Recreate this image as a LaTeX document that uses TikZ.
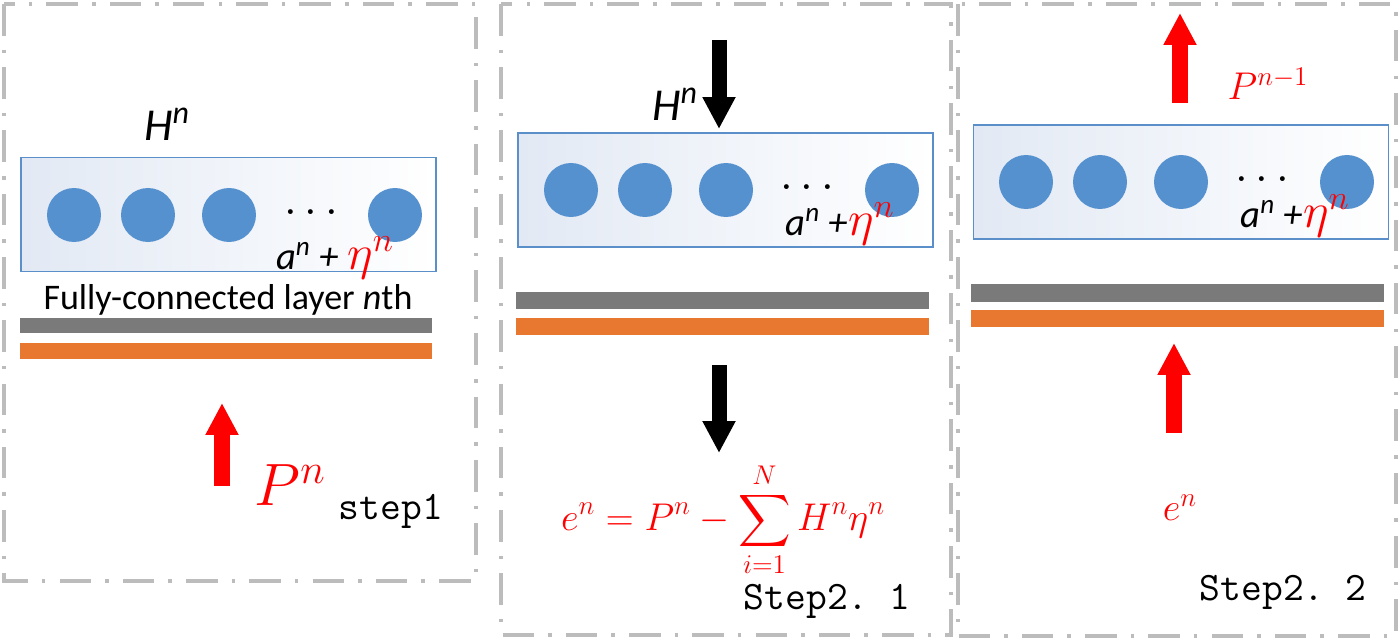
\RequirePackage{fix-cm}
\documentclass[tikz,border=0pt]{standalone}
\usepackage{amsmath}
\usepackage{fontspec}
\newfontfamily\calibri{Carlito}
\usepackage{tikz}
\usetikzlibrary{arrows.meta, positioning}

\definecolor{neuronblue}{RGB}{85,145,207}
\definecolor{boxblue}{RGB}{91,143,201}
\definecolor{shadeblue}{RGB}{226,233,244}
\definecolor{bargray}{RGB}{122,122,122}
\definecolor{barorange}{RGB}{232,120,48}
\definecolor{framegray}{RGB}{188,188,188}

\begin{document}
\begin{tikzpicture}[x=0.02cm, y=-0.02cm,
    frame/.style={draw=framegray, line width=2pt,
                  dash pattern=on 18pt off 8pt on 2pt off 8pt},
    layerbox/.style={rectangle, draw=boxblue, line width=0.9pt,
                     left color=shadeblue, right color=white,
                     minimum width=8.3cm, minimum height=2.28cm},
    neuron/.style={circle, fill=neuronblue, inner sep=0pt, minimum size=1.08cm},
    dots/.style={font=\fontsize{26}{30}\selectfont},
    sumlbl/.style={font=\calibri\itshape\fontsize{22}{26}\selectfont, inner sep=0pt},
    hlbl/.style={font=\calibri\itshape\fontsize{26}{30}\selectfont},
    steplbl/.style={font=\ttfamily\fontsize{23}{27}\selectfont},
    redmath/.style={text=red, font=\fontsize{22}{26}\selectfont},
    redarrow/.style={draw=red, line width=0.32cm,
                     -{Triangle[width=0.62cm, length=0.64cm]}},
    blackarrow/.style={draw=black, line width=0.3cm,
                       -{Triangle[width=0.62cm, length=0.64cm]}}
]
    \useasboundingbox (0,0) rectangle (1400,642);

    % --- Panel frames ---
    \draw[frame] (4,4) rectangle (476,581);
    \draw[frame] (501,4) rectangle (951,635);
    \draw[frame] (958,4) rectangle (1396,636);

    % --- Step 1 ---
    \node[hlbl] (h1) at (167,124) {H\textsuperscript{n}};
    \node[layerbox] (box1) at (228.5,214.5) {};
    \node[neuron] (c11) at (74,215)  {};
    \node[neuron] (c12) at (148,215) {};
    \node[neuron] (c13) at (229,215) {};
    \node[neuron] (c14) at (395,215) {};
    \node[dots] (d1) at (315,213) {$\cdots$};
    \node[sumlbl] (s1) at (335,258) {a\textsuperscript{n} + {\color{red}\fontsize{28}{30}\selectfont$\eta^{n}$}};
    \node[font=\calibri\fontsize{20.5}{24}\selectfont] (fc1) at (228,300)
        {Fully-connected layer \textit{n}th};
    \fill[bargray] (20,318) rectangle (432,333);
    \fill[barorange] (20,343) rectangle (432,359);
    \coordinate (a1tail) at (222,486);
    \coordinate (a1tip) at (222,403);
    \draw[redarrow] (a1tail) -- (a1tip);
    \node[text=red, font=\fontsize{34}{38}\selectfont] (p1) at (290,485) {$P^{n}$};
    \node[steplbl] (st1) at (391,511) {step1};

    % --- Step 2.1 ---
    \coordinate (a2tail) at (719,40);
    \coordinate (a2tip) at (719,129);
    \draw[blackarrow] (a2tail) -- (a2tip);
    \node[hlbl] (h2) at (675,104) {H\textsuperscript{n}};
    \node[layerbox] (box2) at (725.5,190) {};
    \node[neuron] (c21) at (571,190) {};
    \node[neuron] (c22) at (645,190) {};
    \node[neuron] (c23) at (726,190) {};
    \node[neuron] (c24) at (892,190) {};
    \node[dots] (d2) at (811,188) {$\cdots$};
    \node[sumlbl] (s2) at (840,224) {a\textsuperscript{n} +{\color{red}\fontsize{28}{30}\selectfont$\eta^{n}$}};
    \fill[bargray] (516,292) rectangle (929,309);
    \fill[barorange] (516,318) rectangle (929,335);
    \coordinate (a3tail) at (719,365);
    \coordinate (a3tip) at (719,453);
    \draw[blackarrow] (a3tail) -- (a3tip);
    \node[redmath, inner sep=0pt] (eq2) at (723,520)
        {$\displaystyle e^{n} = P^{n} - \sum_{i=1}^{N} H^{n}\eta^{n}$};
    \node[steplbl] (st2) at (827,601) {Step2.~1};

    % --- Step 2.2 ---
    \coordinate (a4tail) at (1180,103);
    \coordinate (a4tip) at (1180,13);
    \draw[redarrow] (a4tail) -- (a4tip);
    \node[redmath] (p3) at (1268,84) {$P^{n-1}$};
    \node[layerbox] (box3) at (1181,182) {};
    \node[neuron] (c31) at (1026,182) {};
    \node[neuron] (c32) at (1100,182) {};
    \node[neuron] (c33) at (1181,182) {};
    \node[neuron] (c34) at (1347,182) {};
    \node[dots] (d3) at (1266,180) {$\cdots$};
    \node[sumlbl] (s3) at (1295,216) {a\textsuperscript{n} +{\color{red}\fontsize{28}{30}\selectfont$\eta^{n}$}};
    \fill[bargray] (971,284) rectangle (1384,302);
    \fill[barorange] (971,310) rectangle (1384,327);
    \coordinate (a5tail) at (1174,433);
    \coordinate (a5tip) at (1174,343);
    \draw[redarrow] (a5tail) -- (a5tip);
    \node[redmath] (e3) at (1180,508) {$e^{n}$};
    \node[steplbl] (st3) at (1283,592) {Step2.~2};
\end{tikzpicture}
\end{document}
